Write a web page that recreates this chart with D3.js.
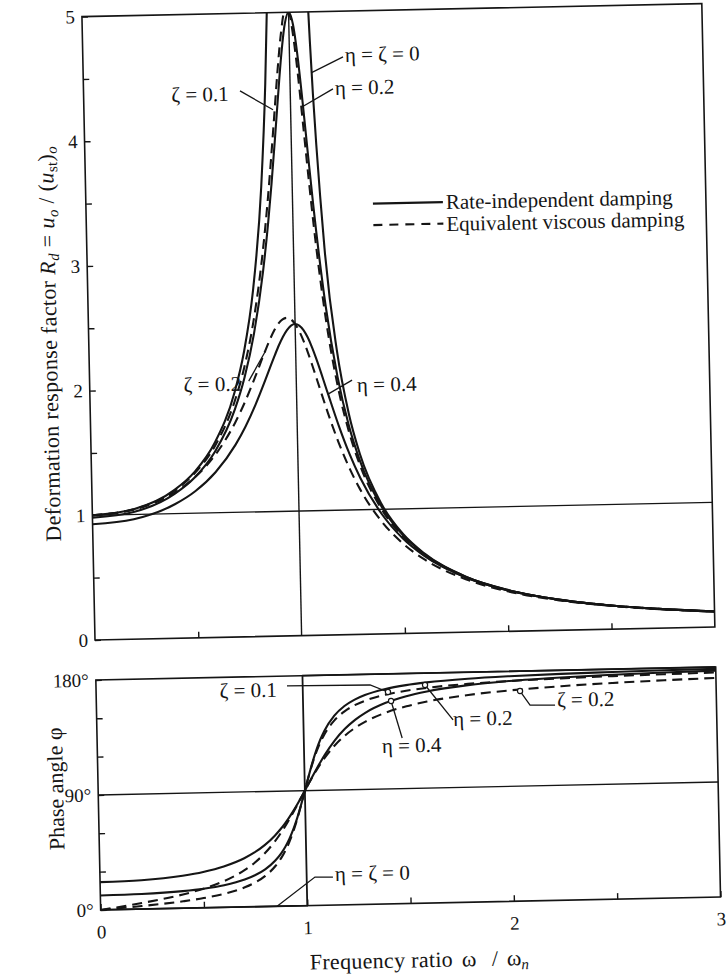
<!DOCTYPE html>
<html><head><meta charset="utf-8">
<script src="https://cdn.jsdelivr.net/npm/d3@7"></script>
<style>
html,body{margin:0;padding:0;background:#fff;}
svg{display:block;}
text{font-family:"Liberation Serif","Times New Roman",serif;fill:#151515;}
</style></head><body>
<svg id="chart" width="726" height="978"></svg>
<script>
// ---------- data ----------
const frequencyRatio = [0,0.2,0.4,0.5,0.6,0.7,0.75,0.8,0.85,0.88,0.9,0.92,0.94,0.96,0.98,1.0,1.02,1.04,1.06,1.08,1.1,1.15,1.2,1.25,1.3,1.4,1.5,1.6,1.8,2.0,2.25,2.5,2.75,3.0];
// deformation response factor Rd
const rdEta02  = [0.981,1.020,1.158,1.288,1.491,1.825,2.079,2.428,2.923,3.317,3.625,3.965,4.321,4.655,4.905,5.0,4.901,4.629,4.253,3.844,3.448,2.635,2.069,1.675,1.392,1.020,0.790,0.636,0.445,0.333,0.246,0.190,0.152,0.125];
const rdEta04  = [0.928,0.962,1.075,1.176,1.325,1.543,1.687,1.858,2.054,2.178,2.258,2.334,2.400,2.453,2.488,2.500,2.487,2.450,2.389,2.308,2.213,1.946,1.682,1.449,1.254,0.962,0.762,0.621,0.439,0.330,0.245,0.190,0.152,0.125];
const rdZeta01 = [1.000,1.041,1.185,1.322,1.536,1.891,2.162,2.538,3.073,3.494,3.821,4.170,4.523,4.822,5.000,5.000,4.809,4.476,4.075,3.667,3.288,2.525,1.995,1.625,1.356,1.000,0.778,0.628,0.441,0.330,0.245,0.190,0.152,0.125];
const rdZeta02 = [1.000,1.038,1.169,1.288,1.463,1.719,1.885,2.076,2.279,2.392,2.457,2.508,2.540,2.551,2.538,2.500,2.439,2.359,2.264,2.160,2.051,1.780,1.536,1.329,1.157,0.900,0.721,0.593,0.425,0.322,0.240,0.187,0.150,0.124];
const ratioUndampedLeft  = [0,0.2,0.4,0.5,0.6,0.7,0.75,0.8,0.85,0.88,0.8944];
const rdUndampedLeft     = [1.000,1.042,1.190,1.333,1.563,1.961,2.286,2.778,3.604,4.433,5.0];
const ratioUndampedRight = [1.0954,1.1,1.15,1.2,1.25,1.3,1.4,1.5,1.6,1.8,2.0,2.25,2.5,2.75,3.0];
const rdUndampedRight    = [5.0,4.762,3.101,2.273,1.778,1.449,1.042,0.800,0.641,0.446,0.333,0.246,0.190,0.152,0.125];
// phase angle (degrees)
const phEta02  = [11.31,11.77,13.39,14.93,17.35,21.41,24.57,29.05,35.78,41.55,46.47,52.47,59.80,68.60,78.80,90,101.42,112.2,121.72,129.76,136.4,148.2,155.56,160.43,163.83,168.23,170.91,172.69,174.9,176.19,177.18,177.82,178.25,178.57];
const phEta04  = [21.80,22.62,25.46,28.07,32.01,38.11,42.44,48.01,55.25,60.58,64.59,68.99,73.77,78.91,84.35,90,95.77,101.53,107.17,112.59,117.7,128.88,137.73,144.58,149.9,157.38,162.26,165.62,169.88,172.41,174.38,175.64,176.51,177.14];
const phZeta01 = [0,2.39,5.44,7.59,10.62,15.35,18.92,23.96,31.49,37.96,43.45,50.15,58.24,67.79,78.58,90,101.2,111.42,120.24,127.61,133.67,144.5,151.39,156.04,159.35,163.74,166.5,168.41,170.87,172.41,173.68,174.56,175.21,175.71];
const phZeta02 = [0,4.76,10.78,14.93,20.56,28.77,34.44,41.63,50.78,57.34,62.18,67.34,72.8,78.46,84.23,90,95.65,101.1,106.25,111.07,115.52,125.04,132.51,138.37,143.0,149.74,154.36,157.69,162.18,165.07,167.51,169.22,170.48,171.47];
const ratioPhaseUndamped = [0,1,1,3];
const phUndamped         = [0,0,180,180];
// ticks
const xTickLabels = ["0","1","2","3"];
const rdTickLabels = ["0","1","2","3","4","5"];
const phaseTickLabels = ["0°","90°","180°"];

// ---------- drawing ----------
const svg = d3.select("#chart");
const g = svg.append("g").attr("transform","rotate(-1.2,95,640)");

const x = d3.scaleLinear().domain([0,3]).range([95,715]);
const yTop = d3.scaleLinear().domain([0,5]).range([640,16.5]);
const yBot = d3.scaleLinear().domain([0,180]).range([910,680]);

const INK = "#151515";
const SOLID = 2.1, THIN = 1.4;
const DASH = "10,6";

svg.append("defs").append("clipPath").attr("id","clipTop")
  .append("rect").attr("x",95).attr("y",yTop(5)).attr("width",620).attr("height",yTop(0)-yTop(5));

function frame(y0,y1){
  g.append("rect").attr("x",x(0)).attr("y",y1).attr("width",x(3)-x(0)).attr("height",y0-y1)
    .attr("fill","none").attr("stroke",INK).attr("stroke-width",1.6);
}
frame(yTop(0),yTop(5));
frame(yBot(0),yBot(180));

function styleAxis(sel,fs){
  sel.select(".domain").remove();
  sel.selectAll(".tick line").attr("stroke",INK).attr("stroke-width",1.4);
  sel.selectAll(".tick text").attr("font-size",fs).attr("fill",INK)
    .attr("font-family","'Liberation Serif','Times New Roman',serif");
}
g.append("g").attr("transform",`translate(${x(0)},0)`)
  .call(d3.axisLeft(yTop).tickValues(d3.range(0,5.01,0.5)).tickSize(-6).tickPadding(7)
    .tickFormat(d=> Number.isInteger(d) ? rdTickLabels[d] : ""))
  .call(s=>styleAxis(s,19));
g.append("g").attr("transform",`translate(0,${yTop(0)})`)
  .call(d3.axisBottom(x).tickValues([0.5,1.5,2,2.5]).tickSize(-6).tickFormat(""))
  .call(s=>styleAxis(s,18));
g.append("g").attr("transform",`translate(${x(0)},0)`)
  .call(d3.axisLeft(yBot).tickValues(d3.range(0,181,30)).tickSize(-6).tickPadding(7)
    .tickFormat(d=> d%90===0 ? phaseTickLabels[d/90] : ""))
  .call(s=>styleAxis(s,19));
g.append("g").attr("transform",`translate(0,${yBot(0)})`)
  .call(d3.axisBottom(x).tickValues(d3.range(0,3.01,0.5)).tickSize(-6).tickPadding(15)
    .tickFormat(d=> Number.isInteger(d) ? xTickLabels[d] : ""))
  .call(s=>styleAxis(s,19));

// reference lines
g.append("line").attr("x1",x(0)).attr("x2",x(3)).attr("y1",yTop(1)).attr("y2",yTop(1))
  .attr("stroke",INK).attr("stroke-width",THIN);
g.append("line").attr("x1",x(1)).attr("x2",x(1)).attr("y1",yTop(0)).attr("y2",yTop(5))
  .attr("stroke",INK).attr("stroke-width",THIN);
g.append("line").attr("x1",x(0)).attr("x2",x(3)).attr("y1",yBot(90)).attr("y2",yBot(90))
  .attr("stroke",INK).attr("stroke-width",THIN);

function curve(xs,ys,yScale,dashed,clip,curveType){
  const pts = xs.map((v,i)=>[v,ys[i]]);
  const line = d3.line().x(d=>x(d[0])).y(d=>yScale(d[1])).curve(curveType||d3.curveMonotoneX);
  const p = g.append("path").attr("d",line(pts)).attr("fill","none")
    .attr("stroke",INK).attr("stroke-width",SOLID).attr("stroke-linejoin","round");
  if(dashed) p.attr("stroke-dasharray",DASH);
  if(clip) p.attr("clip-path","url(#clipTop)");
  return p;
}
curve(ratioUndampedLeft, rdUndampedLeft, yTop,false,true);
curve(ratioUndampedRight, rdUndampedRight, yTop,false,true);
curve(frequencyRatio, rdEta02, yTop,false,true);
curve(frequencyRatio, rdEta04, yTop,false,true);
curve(frequencyRatio, rdZeta01, yTop,true,true);
curve(frequencyRatio, rdZeta02, yTop,true,true);
curve(ratioPhaseUndamped, phUndamped, yBot,false,false,d3.curveLinear).attr("stroke-width",1.8);
curve(frequencyRatio, phEta02, yBot,false,false);
curve(frequencyRatio, phEta04, yBot,false,false);
curve(frequencyRatio, phZeta01, yBot,true,false);
curve(frequencyRatio, phZeta02, yBot,true,false);

// annotations (in data units)
function leader(pts,yScale){
  g.append("path").attr("d",d3.line()(pts.map(p=>[x(p[0]),yScale(p[1])])))
    .attr("fill","none").attr("stroke",INK).attr("stroke-width",1.3);
}
function label(txt,r,v,yScale){
  g.append("text").attr("x",x(r)).attr("y",yScale(v)).attr("font-size",21).text(txt);
}
function ring(r,v,yScale){
  g.append("circle").attr("cx",x(r)).attr("cy",yScale(v)).attr("r",2.6)
    .attr("fill","#fff").attr("stroke",INK).attr("stroke-width",1.2);
}
label("ζ = 0.1",0.425,4.30,yTop); leader([[0.757,4.378],[0.915,4.221]],yTop);
label("η = ζ = 0",1.268,4.593,yTop); leader([[1.259,4.634],[1.103,4.511]],yTop);
label("η = 0.2",1.216,4.330,yTop); leader([[1.207,4.379],[1.055,4.239]],yTop);
label("ζ = 0.2",0.455,1.974,yTop); leader([[0.77,2.05],[0.855,2.29]],yTop);
label("η = 0.4",1.293,1.945,yTop); leader([[1.27,2.04],[1.15,1.93]],yTop);
label("ζ = 0.1",0.598,163.9,yBot); leader([[0.924,172.2],[1.326,171.6],[1.412,165.8]],yBot); ring(1.412,165.8,yBot);
label("η = 0.2",1.724,138.1,yBot); leader([[1.592,170.7],[1.724,142.9]],yBot); ring(1.592,170.7,yBot);
label("η = 0.4",1.377,118.2,yBot); leader([[1.426,158.7],[1.476,129.6]],yBot); ring(1.426,158.7,yBot);
label("ζ = 0.2",2.229,151.3,yBot); leader([[2.051,164.4],[2.098,153.3],[2.219,152.8]],yBot); ring(2.051,164.4,yBot);
label("η = ζ = 0",1.137,18.8,yBot); leader([[1.127,21.9],[1.040,22.2],[0.854,0]],yBot);

// legend
const lg = g.append("g");
lg.append("line").attr("x1",382).attr("x2",452).attr("y1",209.5).attr("y2",209.5)
  .attr("stroke",INK).attr("stroke-width",SOLID);
lg.append("text").attr("x",455).attr("y",216.5).attr("font-size",21).text("Rate-independent damping");
lg.append("line").attr("x1",382).attr("x2",452).attr("y1",231).attr("y2",231)
  .attr("stroke",INK).attr("stroke-width",SOLID).attr("stroke-dasharray","9,7");
lg.append("text").attr("x",455).attr("y",238.5).attr("font-size",21).text("Equivalent viscous damping");

function rich(sel,parts){
  parts.forEach(p=>{
    const t = sel.append("tspan").text(p.t);
    if(p.it) t.attr("font-style","italic");
    if(p.sub){ t.attr("font-size",15).attr("dy",4); }
    if(p.up){ t.attr("dy",-4); }
    if(p.x!==undefined){ t.attr("x",p.x); }
  });
}
const yt1 = g.append("text").attr("transform","translate(63,343) rotate(-90)")
  .attr("text-anchor","middle").attr("font-size",22).attr("letter-spacing",0.35);
rich(yt1,[{t:"Deformation response factor "},{t:"R",it:1},{t:"d",it:1,sub:1},{t:" = ",up:1},
  {t:"u",it:1},{t:"o",it:1,sub:1},{t:" / (",up:1},{t:"u",it:1},{t:"st",sub:1},{t:")",up:1},{t:"o",it:1,sub:1}]);
const yt2 = g.append("text").attr("transform","translate(60,788) rotate(-90)")
  .attr("text-anchor","middle").attr("font-size",22);
rich(yt2,[{t:"Phase angle φ"}]);
const xt = g.append("text").attr("y",974).attr("font-size",22);
rich(xt,[{t:"Frequency ratio",x:303},{t:"ω",x:455},{t:"/",x:485},{t:"ω",x:500},{t:"n",it:1,sub:1}]);
xt.select("tspan").attr("letter-spacing",0.3);
</script>
</body></html>
